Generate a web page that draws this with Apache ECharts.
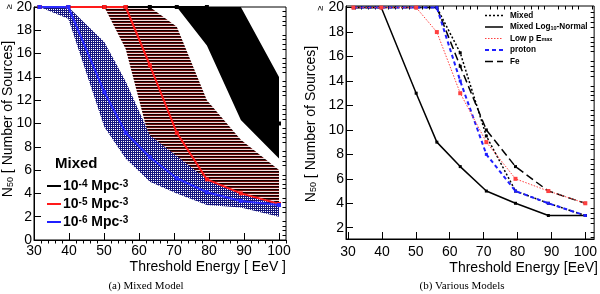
<!DOCTYPE html>
<html><head><meta charset="utf-8">
<script src="https://cdn.jsdelivr.net/npm/echarts@6/dist/echarts.min.js"></script>
<style>html,body{margin:0;padding:0;background:#fff}#c{width:600px;height:294px}</style>
</head><body><div id="c"></div>
<script>
// ---------- data ----------
const energies = [31.6, 39.8, 50.1, 56.2, 63.1, 70.8, 79.4, 89.1, 100];
const xTicks = [30, 40, 50, 60, 70, 80, 90, 100];
const yTicksLeft = [0, 2, 4, 6, 8, 10, 12, 14, 16, 18, 20];
const yTicksRight = [2, 4, 6, 8, 10, 12, 14, 16, 18, 20];

// (a) Mixed model: medians and bands
const med4 = [20, 20, 20, 20, 20, 20, 20, 15, 10];
const med5 = [20, 20, 20, 20, 15, 9.2, 5.2, 4.0, 3.1];
const med6 = [20, 20, 12.7, 9.2, 7.1, 5.3, 4.1, 3.35, 3];
const band4E = [70.8, 79.4, 89.1, 100];
const band4Lo = [20, 16.7, 10.3, 7];
const band4Hi = [20, 20, 20, 14];
const band5E = [50.1, 56.2, 63.1, 70.8, 79.4, 89.1, 100];
const band5Lo = [20, 16.4, 8.5, 5.7, 4.0, 3.5, 3.2];
const band5Hi = [20, 20, 20, 18.3, 12, 8.6, 6];
const band6E = energies;
const band6Lo = [20, 19, 9.7, 7, 5, 4, 3, 2.8, 2];
const band6Hi = [20, 20, 17, 13.6, 9, 7.2, 5.2, 4, 3.2];

// (b) Various models
const mixed = [20, 20, 20, 20, 16.3, 9.5, 5, 4, 3];
const mixedLogNormal = [20, 20, 13, 9, 7, 5, 4, 3, 3];
const lowPEmax = [20, 20, 20, 18, 13, 9, 6, 5, 4];
const proton = [20, 20, 20, 20, 14, 8, 5, 4, 3];
const fe = [20, 20, 20, 20, 15.2, 10, 7, 5, 4];

// ---------- helpers ----------
const FONT = 'Liberation Sans, Arial, Helvetica, sans-serif';
function pattern(w, h, rows) {
  const c = document.createElement('canvas'); c.width = w; c.height = h;
  const ctx = c.getContext('2d');
  for (let y = 0; y < h; y++) for (let x = 0; x < w; x++) { ctx.fillStyle = rows[y][x]; ctx.fillRect(x, y, 1, 1); }
  return c;
}
const B = '#16167f', W = '#ffffff';
const bluePat = { image: pattern(2, 2, [[B, B], [B, W]]), repeat: 'repeat' };
const redPat = { image: pattern(1, 3, [['#120000'], ['#6a0c0c'], ['#f2dada']]), repeat: 'repeat' };

function steps(a, b, s, exclude) {
  const out = [];
  for (let v = a; v <= b + 1e-9; v += s) {
    const r = Math.round(v * 100) / 100;
    if (!exclude.some(e => Math.abs(e - r) < 1e-6)) out.push(r);
  }
  return out;
}

function bandSeries(E, lo, hi, fill) {
  return {
    type: 'custom', xAxisIndex: 0, yAxisIndex: 0, silent: true, clip: true,
    data: [[E[0], lo[0]]],
    renderItem: (params, api) => {
      const pts = [];
      for (let i = 0; i < E.length; i++) pts.push(api.coord([E[i], hi[i]]));
      for (let i = E.length - 1; i >= 0; i--) pts.push(api.coord([E[i], lo[i]]));
      return { type: 'polygon', shape: { points: pts }, style: { fill: fill, stroke: null } };
    }
  };
}
function lineSeries(vals, xi, yi, color, width, type, symSize) {
  return {
    type: 'line', xAxisIndex: xi, yAxisIndex: yi, silent: true, clip: false,
    data: energies.map((e, i) => [e, vals[i]]),
    symbol: 'rect', symbolSize: symSize, showSymbol: true,
    itemStyle: { color: color },
    lineStyle: { color: color, width: width, type: type }
  };
}
function axisPair(gi, min, max, major, minor, labelMargin) {
  const base = { type: 'value', gridIndex: gi, min: min, max: max, splitLine: { show: false } };
  const main = Object.assign({}, base, {
    axisLine: { show: true, lineStyle: { color: '#000', width: 1 } },
    axisTick: { show: true, inside: true, length: 7, customValues: major, lineStyle: { color: '#000', width: 1 } },
    axisLabel: { show: true, customValues: major, margin: labelMargin, color: '#000', fontSize: 14, fontFamily: FONT }
  });
  const mnr = Object.assign({}, base, {
    axisLine: { show: false },
    axisTick: { show: true, inside: true, length: 3.5, customValues: minor, lineStyle: { color: '#000', width: 1 } },
    axisLabel: { show: false }
  });
  return [main, mnr];
}

const xMinorL = steps(30, 102, 2, xTicks);
const xMinorR = steps(30, 102, 2, xTicks);
const yMinorL = steps(0, 20, 0.4, yTicksLeft);
const yMinorR = steps(1.2, 20, 0.4, yTicksRight);

const xAxes = [
  ...axisPair(0, 30, 102, xTicks, xMinorL, 4),
  ...axisPair(1, 29.4, 102.6, xTicks, xMinorR, 6)
];
const yAxes = [
  ...axisPair(0, 0, 20, yTicksLeft, yMinorL, 2),
  ...axisPair(1, 1.08, 20.13, yTicksRight, yMinorR, 2)
];

function txt(x, y, text, opts) {
  return Object.assign({ type: 'text', x: x, y: y, silent: true, style: Object.assign({ text: text, fill: '#000', font: '14px ' + FONT, align: 'left', verticalAlign: 'middle' }, opts.style || {}) }, opts.el || {});
}
const R = Math.PI / 2;
const leftLegend = [
  { c: '#000', t: '10{p|-4} Mpc{p|-3}', y: 186 },
  { c: '#ff1a1a', t: '10{p|-5} Mpc{p|-3}', y: 204 },
  { c: '#1f1fff', t: '10{p|-6} Mpc{p|-3}', y: 222 }
];
const supRich = { p: { fontSize: 10, lineHeight: 9, verticalAlign: 'top', fontWeight: 'bold', fontFamily: FONT } };
const rightLegend = [
  { t: 'Mixed', dash: [2, 2], c: '#000', w: 1.5 },
  { t: 'Mixed Log{s|10}-Normal', dash: 'solid', c: '#000', w: 1.5 },
  { t: 'Low p E{s|max}', dash: [1.5, 1.5], c: '#ff4040', w: 1 },
  { t: 'proton', dash: [4, 3], c: '#1f1fff', w: 2 },
  { t: 'Fe', dash: [8, 4], c: '#000', w: 1.5 }
];
const graphics = [];
const titleRich = { s: { fontSize: 9, lineHeight: 8, verticalAlign: 'bottom', fontFamily: FONT } };
graphics.push(txt(8.5, 119, 'N{s|50} [ Number of Sources]', { el: { rotation: R }, style: { align: 'center', rich: titleRich } }));
graphics.push(txt(311, 124, 'N{s|50} [ Number of Sources]', { el: { rotation: R }, style: { align: 'center', rich: titleRich } }));
graphics.push(txt(9.5, 6.5, '≥', { el: { rotation: R }, style: { align: 'center', font: '9px ' + FONT } }));
graphics.push(txt(320.5, 8, '≥', { el: { rotation: R }, style: { align: 'center', font: '9px ' + FONT } }));
graphics.push(txt(286, 267, 'Threshold Energy [ EeV ]', { style: { align: 'right' } }));
graphics.push(txt(598, 268, 'Threshold Energy [EeV]', { style: { align: 'right' } }));
graphics.push(txt(146, 286, '(a) Mixed Model', { style: { align: 'center', font: '11px Liberation Serif, Times New Roman, serif' } }));
graphics.push(txt(462, 286, '(b) Various Models', { style: { align: 'center', font: '11px Liberation Serif, Times New Roman, serif' } }));
graphics.push(txt(55, 164, 'Mixed', { style: { font: 'bold 15px ' + FONT } }));
leftLegend.forEach(e => {
  graphics.push({ type: 'line', silent: true, shape: { x1: 47, y1: e.y, x2: 61, y2: e.y }, style: { stroke: e.c, lineWidth: 2 } });
  graphics.push(txt(63, e.y, e.t, { style: { font: 'bold 14px ' + FONT, rich: supRich } }));
});
rightLegend.forEach((e, i) => {
  const y = 15.5 + i * 11.5;
  graphics.push({ type: 'line', silent: true, shape: { x1: 485, y1: y, x2: 503, y2: y }, style: { stroke: e.c, lineWidth: e.w, lineDash: e.dash === 'solid' ? null : e.dash } });
  graphics.push(txt(510, y, e.t, { style: { font: 'bold 8.2px ' + FONT, rich: { s: { fontSize: 5.5, lineHeight: 5, verticalAlign: 'bottom', fontWeight: 'bold', fontFamily: FONT } } } }));
});

const chart = echarts.init(document.getElementById('c'), null, { renderer: 'canvas', width: 600, height: 294 });
chart.setOption({
  animation: false,
  backgroundColor: '#fff',
  grid: [
    { left: 34, top: 5, width: 252, height: 235, show: true, borderColor: '#000', borderWidth: 1, backgroundColor: 'transparent' },
    { left: 346, top: 6, width: 252, height: 233, show: true, borderColor: '#000', borderWidth: 1, backgroundColor: 'transparent' }
  ],
  xAxis: xAxes,
  yAxis: yAxes,
  series: [
    bandSeries(band4E, band4Lo, band4Hi, '#000'),
    bandSeries(band5E, band5Lo, band5Hi, redPat),
    bandSeries(band6E, band6Lo, band6Hi, bluePat),
    lineSeries(med4, 0, 0, '#000', 2, 'solid', 4),
    lineSeries(med5, 0, 0, '#ff1a1a', 2, 'solid', 4),
    lineSeries(med6, 0, 0, '#2a2aff', 2, 'solid', 4),
    lineSeries(mixedLogNormal, 2, 2, '#000', 1.5, 'solid', 3),
    lineSeries(fe, 2, 2, '#000', 1.5, [8, 4], 3),
    lineSeries(mixed, 2, 2, '#000', 1.5, [2, 2], 3),
    lineSeries(proton, 2, 2, '#1f1fff', 2, [4, 3], 3),
    lineSeries(lowPEmax, 2, 2, '#ff4040', 1, [1.5, 1.5], 4)
  ],
  graphic: graphics
});
</script></body></html>
